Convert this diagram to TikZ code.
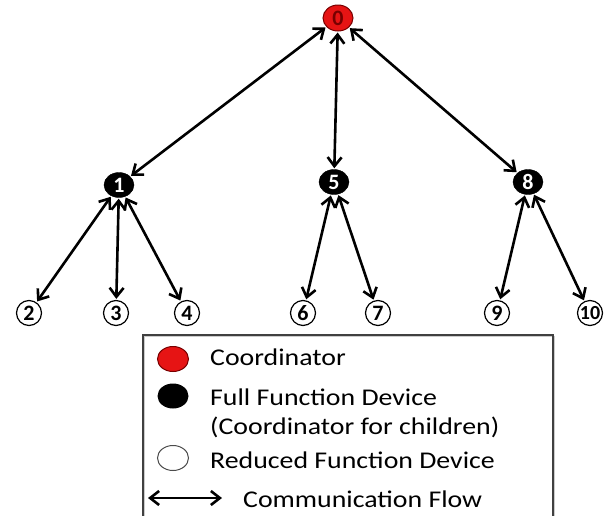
\documentclass[tikz,border=0pt]{standalone}
\usepackage{fontspec}
\setmainfont{Carlito}
\newfontfamily\legfont[FakeStretch=1.16]{Carlito}
\usetikzlibrary{shapes.geometric,arrows.meta}
\definecolor{coordred}{RGB}{230,20,20}
\definecolor{coordedge}{RGB}{120,0,0}
\tikzset{
  coordnode/.style={ellipse,fill=coordred,draw=coordedge,line width=1pt,minimum width=30pt,minimum height=26pt,inner sep=0pt,font=\fontsize{22}{22}\selectfont\bfseries,text=coordedge},
  ffdnode/.style={ellipse,fill=black,draw=black,minimum width=30pt,minimum height=25pt,inner sep=0pt,font=\fontsize{22}{22}\selectfont\bfseries,text=white},
  rfdnode/.style={circle,fill=white,draw=black,line width=1.2pt,minimum size=25pt,inner sep=0pt,font=\fontsize{22}{22}\selectfont\bfseries},
  flow/.style={line width=2.6pt,{Straight Barb[length=9pt,width=14pt,line width=2.6pt]}-{Straight Barb[length=9pt,width=14pt,line width=2.6pt]},shorten <=1pt,shorten >=1pt},
  legtext/.style={anchor=west,inner sep=0pt,font=\legfont\fontsize{24}{24}\selectfont},
}
\begin{document}
\begin{tikzpicture}[x=1pt,y=-1pt]
\useasboundingbox (0,0) rectangle (606,515);
% tree nodes
\node[coordnode] (n0) at (338,18) {0};
\node[ffdnode] (n1) at (119,185) {1};
\node[ffdnode] (n5) at (334,182) {5};
\node[ffdnode] (n8) at (528,182) {8};
\node[rfdnode] (n2) at (29,313) {2};
\node[rfdnode] (n3) at (116,313) {3};
\node[rfdnode] (n4) at (187,313) {4};
\node[rfdnode] (n6) at (303,313) {6};
\node[rfdnode] (n7) at (378,313) {7};
\node[rfdnode] (n9) at (497,313) {9};
\node[rfdnode,font=\fontsize{20}{20}\selectfont\bfseries] (n10) at (590,313) {10};
% connectors
\draw[flow] (n0) -- (n1);
\draw[flow] (n0) -- (n5);
\draw[flow] (n0) -- (n8);
\draw[flow] (n1) -- (n2);
\draw[flow] (n1) -- (n3);
\draw[flow] (n1) -- (n4);
\draw[flow] (n5) -- (n6);
\draw[flow] (n5) -- (n7);
\draw[flow] (n8) -- (n9);
\draw[flow] (n8) -- (n10);
% legend
\draw[line width=1.6pt,draw=black!20] (144.5,520) -- (144.5,336.5) -- (554.5,336.5) -- (554.5,520);
\draw[line width=1.6pt,draw=black!75] (143,520) -- (143,335) -- (553,335) -- (553,520);
\node[ellipse,fill=coordred,draw=coordedge,line width=1pt,minimum width=31pt,minimum height=25pt] (lc) at (173,359) {};
\node[ellipse,fill=black,minimum width=31pt,minimum height=25pt] (lf) at (173,396) {};
\node[ellipse,fill=white,draw=black!70,line width=1pt,minimum width=31pt,minimum height=25pt] (lr) at (173,458) {};
\coordinate (la) at (148,498);
\coordinate (lb) at (222,498);
\draw[flow,shorten <=0pt,shorten >=0pt] (la) -- (lb);
\node[legtext] (tc) at (210,357) {Coordinator};
\node[legtext] (tf) at (210,397) {Full Function Device};
\node[legtext] (tf2) at (210,427) {(Coordinator for children)};
\node[legtext] (tr) at (210,460) {Reduced Function Device};
\node[legtext] (tcf) at (243,499) {Communication Flow};
\end{tikzpicture}
\end{document}
